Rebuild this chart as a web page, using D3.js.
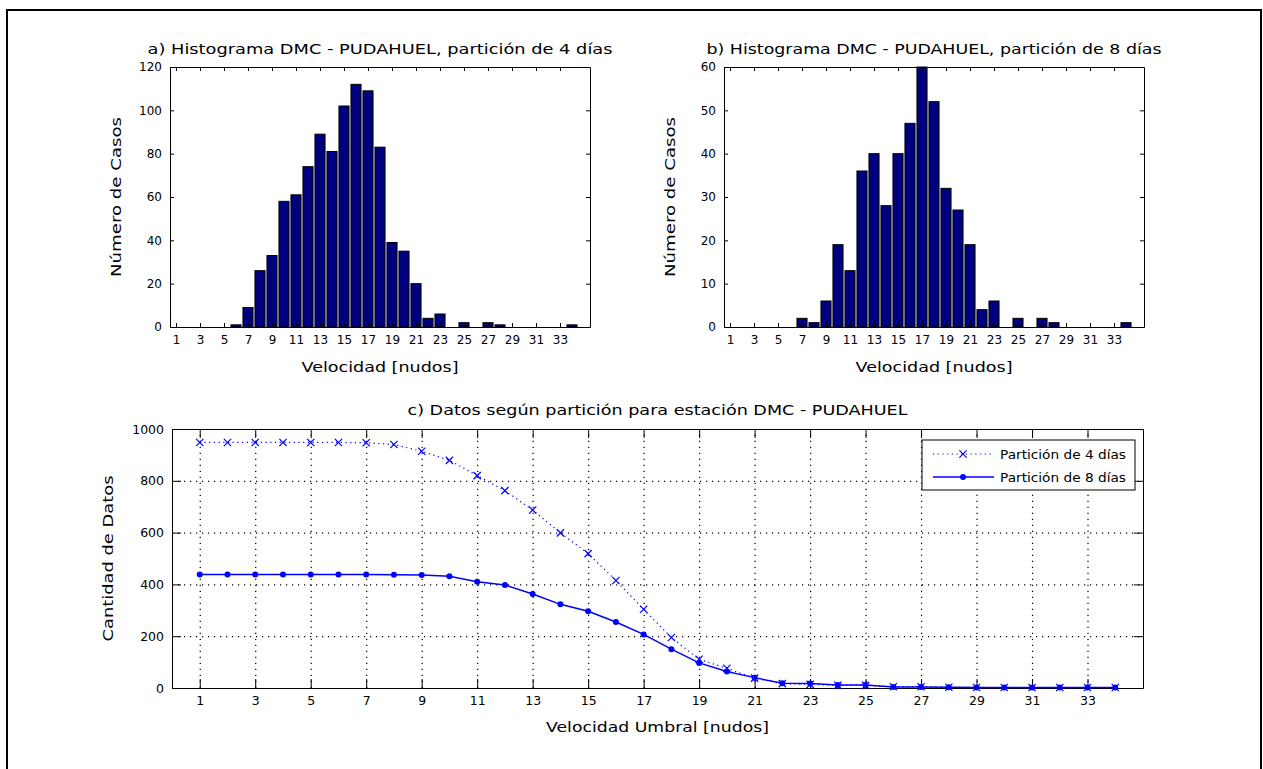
<!DOCTYPE html>
<html>
<head>
<meta charset="utf-8">
<script src="https://cdn.jsdelivr.net/npm/d3@7"></script>
<style>
    body { margin: 0; background: #fff; }
    text { font-family: 'DejaVu Sans', sans-serif; fill: #000; }
    .axis path, .axis line { stroke: #000; }
    .grid line { stroke: #000; stroke-width: 1.2; stroke-dasharray: 1.2, 4.8; }
    .grid path { display: none; }
</style>
</head>
<body>
<div id="chart"></div>
<script>
// velocidades (nudos) usadas en los tres graficos
const velocidades = [1, 2, 3, 4, 5, 6, 7, 8, 9, 10, 11, 12, 13, 14, 15, 16, 17,
    18, 19, 20, 21, 22, 23, 24, 25, 26, 27, 28, 29, 30, 31, 32, 33, 34];
const ticksVelocidad = [1, 3, 5, 7, 9, 11, 13, 15, 17, 19, 21, 23, 25, 27, 29, 31, 33];

// histograma particion 4 dias
const casos4dias = [0, 0, 0, 0, 0, 1, 9, 26, 33, 58, 61, 74, 89, 81, 102, 112, 109,
    83, 39, 35, 20, 4, 6, 0, 2, 0, 2, 1, 0, 0, 0, 0, 0, 1];
// histograma particion 8 dias
const casos8dias = [0, 0, 0, 0, 0, 0, 2, 1, 6, 19, 13, 36, 40, 28, 40, 47, 60,
    52, 32, 27, 19, 4, 6, 0, 2, 0, 2, 1, 0, 0, 0, 0, 0, 1];

const ticksCasos4 = [0, 20, 40, 60, 80, 100, 120];
const ticksCasos8 = [0, 10, 20, 30, 40, 50, 60];

// cantidad de datos sobre la velocidad umbral
const datos4dias = [948, 948, 948, 948, 948, 948, 947, 940, 914, 879, 820, 762, 687,
    599, 519, 415, 304, 195, 111, 76, 38, 17, 14, 10, 10, 5, 5, 3, 2, 2, 2, 2, 2, 2];
const datos8dias = [438, 438, 438, 438, 438, 438, 438, 437, 436, 431, 410, 398, 363,
    323, 296, 255, 207, 150, 97, 64, 40, 18, 17, 12, 12, 4, 4, 3, 2, 2, 2, 2, 2, 2];
const ticksDatos = [0, 200, 400, 600, 800, 1000];

const svg = d3.select('#chart')
    .append('svg')
    .attr('width', 1263)
    .attr('height', 769);

svg.append('rect')
    .attr('x', 7)
    .attr('y', 10)
    .attr('width', 1254)
    .attr('height', 800)
    .attr('fill', 'none')
    .attr('stroke', '#000')
    .attr('stroke-width', 2);

function addLabel(x, y, str, len, size, rotate) {
    const t = svg.append('text')
        .attr('x', x)
        .attr('y', y)
        .attr('text-anchor', 'middle')
        .attr('font-size', size)
        .attr('textLength', len)
        .attr('lengthAdjust', 'spacingAndGlyphs')
        .text(str);
    if (rotate) t.attr('transform', `rotate(-90, ${x}, ${y})`);
}

// caja con ticks hacia adentro en los cuatro lados
function drawBox(g, x, y, w, h, yTicks, tickLen, fontSize) {
    g.append('g')
        .attr('class', 'axis')
        .attr('transform', `translate(0, ${h})`)
        .call(d3.axisBottom(x).tickValues(ticksVelocidad).tickSizeInner(-tickLen).tickSizeOuter(0).tickPadding(8))
        .call(a => a.selectAll('text').attr('font-size', fontSize).attr('fill', '#000'));
    g.append('g')
        .attr('class', 'axis')
        .call(d3.axisTop(x).tickValues(ticksVelocidad).tickSizeInner(-tickLen).tickSizeOuter(0).tickFormat(''));
    g.append('g')
        .attr('class', 'axis')
        .call(d3.axisLeft(y).tickValues(yTicks).tickFormat(d3.format('d')).tickSizeInner(-tickLen).tickSizeOuter(0).tickPadding(8))
        .call(a => a.selectAll('text').attr('font-size', fontSize).attr('fill', '#000'));
    g.append('g')
        .attr('class', 'axis')
        .attr('transform', `translate(${w}, 0)`)
        .call(d3.axisRight(y).tickValues(yTicks).tickSizeInner(-tickLen).tickSizeOuter(0).tickFormat(''));
    g.selectAll('.axis text').attr('font-family', 'DejaVu Sans');
}

function drawHistogram(casos, yTicks, left, top, title, titleLen) {
    const w = 420, h = 260;
    const g = svg.append('g').attr('transform', `translate(${left}, ${top})`);
    const x = d3.scaleLinear().domain([0.5, 35.5]).range([0, w]);
    const y = d3.scaleLinear().domain([0, yTicks[yTicks.length - 1]]).range([h, 0]);

    g.selectAll('rect.bar')
        .data(velocidades.map((v, i) => ({ v: v, n: casos[i] })))
        .enter()
        .append('rect')
        .attr('class', 'bar')
        .attr('x', d => x(d.v - 0.42))
        .attr('width', x(0.84) - x(0))
        .attr('y', d => y(d.n))
        .attr('height', d => h - y(d.n))
        .attr('fill', '#000080')
        .attr('stroke', '#000')
        .attr('stroke-width', 1);

    drawBox(g, x, y, w, h, yTicks, 4, 12);

    addLabel(left + w / 2, top - 13, title, titleLen, 14);
    addLabel(left + w / 2, top + 305, 'Velocidad [nudos]', 157, 14);
    addLabel(left - 49, top + h / 2, 'Número de Casos', 160, 14, true);
}

drawHistogram(casos4dias, ticksCasos4, 170, 67,
    'a) Histograma DMC - PUDAHUEL, partición de 4 días', 465);
drawHistogram(casos8dias, ticksCasos8, 724, 67,
    'b) Histograma DMC - PUDAHUEL, partición de 8 días', 455);

function drawUmbral() {
    const left = 172, top = 429, w = 971, h = 259;
    const g = svg.append('g').attr('transform', `translate(${left}, ${top})`);
    const x = d3.scaleLinear().domain([0, 35]).range([0, w]);
    const y = d3.scaleLinear().domain([0, 1000]).range([h, 0]);

    g.append('g')
        .attr('class', 'grid')
        .attr('transform', `translate(0, ${h})`)
        .call(d3.axisBottom(x).tickValues(ticksVelocidad).tickSize(-h).tickFormat(''));
    g.append('g')
        .attr('class', 'grid')
        .call(d3.axisLeft(y).tickValues(ticksDatos.slice(1, -1)).tickSize(-w).tickFormat(''));

    drawBox(g, x, y, w, h, ticksDatos, 9, 12.5);

    const serie4 = velocidades.map((v, i) => ({ v: v, n: datos4dias[i] }));
    const serie8 = velocidades.map((v, i) => ({ v: v, n: datos8dias[i] }));
    const line = d3.line().x(d => x(d.v)).y(d => y(d.n));

    g.append('path')
        .datum(serie4)
        .attr('d', line)
        .attr('fill', 'none')
        .attr('stroke', '#0000ff')
        .attr('stroke-width', 1.2)
        .attr('stroke-dasharray', '1.2, 3.5');

    g.append('path')
        .datum(serie8)
        .attr('d', line)
        .attr('fill', 'none')
        .attr('stroke', '#0000ff')
        .attr('stroke-width', 1.5);

    const cruz = d3.symbol().type(d3.symbolX).size(36);
    g.selectAll('path.x4')
        .data(serie4)
        .enter()
        .append('path')
        .attr('class', 'x4')
        .attr('d', cruz)
        .attr('transform', d => `translate(${x(d.v)}, ${y(d.n)})`)
        .attr('fill', 'none')
        .attr('stroke', '#0000ff')
        .attr('stroke-width', 1.2);

    g.selectAll('circle.p8')
        .data(serie8)
        .enter()
        .append('circle')
        .attr('class', 'p8')
        .attr('cx', d => x(d.v))
        .attr('cy', d => y(d.n))
        .attr('r', 3)
        .attr('fill', '#0000ff');

    // leyenda
    const leg = svg.append('g').attr('transform', 'translate(922, 440)');
    leg.append('rect')
        .attr('width', 213)
        .attr('height', 50)
        .attr('fill', '#fff')
        .attr('stroke', '#000')
        .attr('stroke-width', 1);
    leg.append('line')
        .attr('x1', 11).attr('x2', 72).attr('y1', 14).attr('y2', 14)
        .attr('stroke', '#0000ff').attr('stroke-width', 1.2).attr('stroke-dasharray', '1.2, 3.5');
    leg.append('path')
        .attr('d', cruz)
        .attr('transform', 'translate(41, 14)')
        .attr('fill', 'none').attr('stroke', '#0000ff').attr('stroke-width', 1.2);
    leg.append('line')
        .attr('x1', 11).attr('x2', 72).attr('y1', 37).attr('y2', 37)
        .attr('stroke', '#0000ff').attr('stroke-width', 1.5);
    leg.append('circle')
        .attr('cx', 41).attr('cy', 37).attr('r', 3).attr('fill', '#0000ff');
    leg.append('text').attr('x', 78).attr('y', 19).attr('font-size', 12)
        .attr('textLength', 126).attr('lengthAdjust', 'spacingAndGlyphs')
        .text('Partición de 4 días');
    leg.append('text').attr('x', 78).attr('y', 42).attr('font-size', 12)
        .attr('textLength', 126).attr('lengthAdjust', 'spacingAndGlyphs')
        .text('Partición de 8 días');

    addLabel(left + w / 2, top - 14, 'c) Datos según partición para estación DMC - PUDAHUEL', 500, 14);
    addLabel(left + w / 2, top + h + 44, 'Velocidad Umbral [nudos]', 223, 14);
    addLabel(left - 59, top + h / 2, 'Cantidad de Datos', 166, 14, true);
}

drawUmbral();
</script>
</body>
</html>
